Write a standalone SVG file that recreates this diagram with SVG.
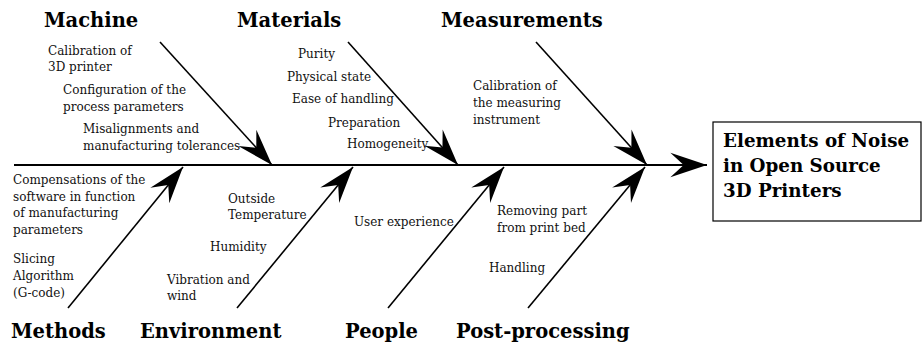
<svg xmlns="http://www.w3.org/2000/svg" width="923" height="344" viewBox="0 0 923 344">
<style>
  .head { font-family: "DejaVu Serif", "Liberation Serif", serif; font-weight: bold; font-size: 19.5px; fill: #000; }
  .box { font-family: "DejaVu Serif", "Liberation Serif", serif; font-weight: bold; font-size: 18.3px; fill: #000; }
  .lbl { font-family: "DejaVu Serif", "Liberation Serif", serif; font-size: 12px; fill: #111; }
  .br { stroke: #000; stroke-width: 1.6; fill: none; marker-end: url(#ah); }
  .spine { stroke: #000; stroke-width: 2; fill: none; marker-end: url(#ah); }
</style>
<defs>
  <marker id="ah" markerUnits="userSpaceOnUse" markerWidth="40" markerHeight="30" viewBox="-34 -12 36 24" refX="0" refY="0" orient="auto">
    <path d="M0,0 L-33,-11 L-21,0 L-33,11 Z" fill="#000"/>
  </marker>
</defs>
<rect width="923" height="344" fill="#fff"/>
<g id="connectors">
  <line class="spine" x1="14" y1="165" x2="707" y2="165"/>
  <line class="br" x1="160" y1="42" x2="272" y2="165"/>
  <line class="br" x1="348" y1="42" x2="458" y2="165"/>
  <line class="br" x1="536" y1="42" x2="647" y2="165"/>
  <line class="br" x1="68" y1="308" x2="183" y2="167"/>
  <line class="br" x1="237" y1="308" x2="353" y2="167"/>
  <line class="br" x1="388" y1="308" x2="504" y2="167"/>
  <line class="br" x1="528" y1="308" x2="645" y2="167"/>
</g>
<g id="effect">
  <rect x="713" y="122" width="208" height="99" fill="#fff" stroke="#000" stroke-width="1.2"/>
  <text class="box" x="723" y="147">Elements of Noise</text>
  <text class="box" x="723" y="172">in Open Source</text>
  <text class="box" x="723" y="197">3D Printers</text>
</g>
<g id="machine">
  <text class="head" x="44" y="27">Machine</text>
  <text class="lbl" x="48" y="55">Calibration of</text>
  <text class="lbl" x="48" y="71">3D printer</text>
  <text class="lbl" x="63" y="94">Configuration of the</text>
  <text class="lbl" x="63" y="111">process parameters</text>
  <text class="lbl" x="83" y="133">Misalignments and</text>
  <text class="lbl" x="83" y="150">manufacturing tolerances</text>
</g>
<g id="materials">
  <text class="head" x="237" y="27">Materials</text>
  <text class="lbl" x="298" y="58">Purity</text>
  <text class="lbl" x="287" y="81">Physical state</text>
  <text class="lbl" x="292" y="103">Ease of handling</text>
  <text class="lbl" x="328" y="127">Preparation</text>
  <text class="lbl" x="347" y="148">Homogeneity</text>
</g>
<g id="measurements">
  <text class="head" x="441" y="27">Measurements</text>
  <text class="lbl" x="473" y="90">Calibration of</text>
  <text class="lbl" x="473" y="107">the measuring</text>
  <text class="lbl" x="473" y="124">instrument</text>
</g>
<g id="methods">
  <text class="head" x="11" y="338">Methods</text>
  <text class="lbl" x="13" y="184">Compensations of the</text>
  <text class="lbl" x="13" y="201">software in function</text>
  <text class="lbl" x="13" y="217">of manufacturing</text>
  <text class="lbl" x="13" y="234">parameters</text>
  <text class="lbl" x="13" y="263">Slicing</text>
  <text class="lbl" x="13" y="280">Algorithm</text>
  <text class="lbl" x="13" y="297">(G-code)</text>
</g>
<g id="environment">
  <text class="head" x="140" y="338">Environment</text>
  <text class="lbl" x="228" y="203">Outside</text>
  <text class="lbl" x="228" y="219">Temperature</text>
  <text class="lbl" x="210" y="251">Humidity</text>
  <text class="lbl" x="167" y="284">Vibration and</text>
  <text class="lbl" x="167" y="300">wind</text>
</g>
<g id="people">
  <text class="head" x="345" y="338">People</text>
  <text class="lbl" x="354" y="226">User experience</text>
</g>
<g id="postprocessing">
  <text class="head" x="456" y="338">Post-processing</text>
  <text class="lbl" x="497" y="215">Removing part</text>
  <text class="lbl" x="497" y="232">from print bed</text>
  <text class="lbl" x="489" y="272">Handling</text>
</g>
</svg>
